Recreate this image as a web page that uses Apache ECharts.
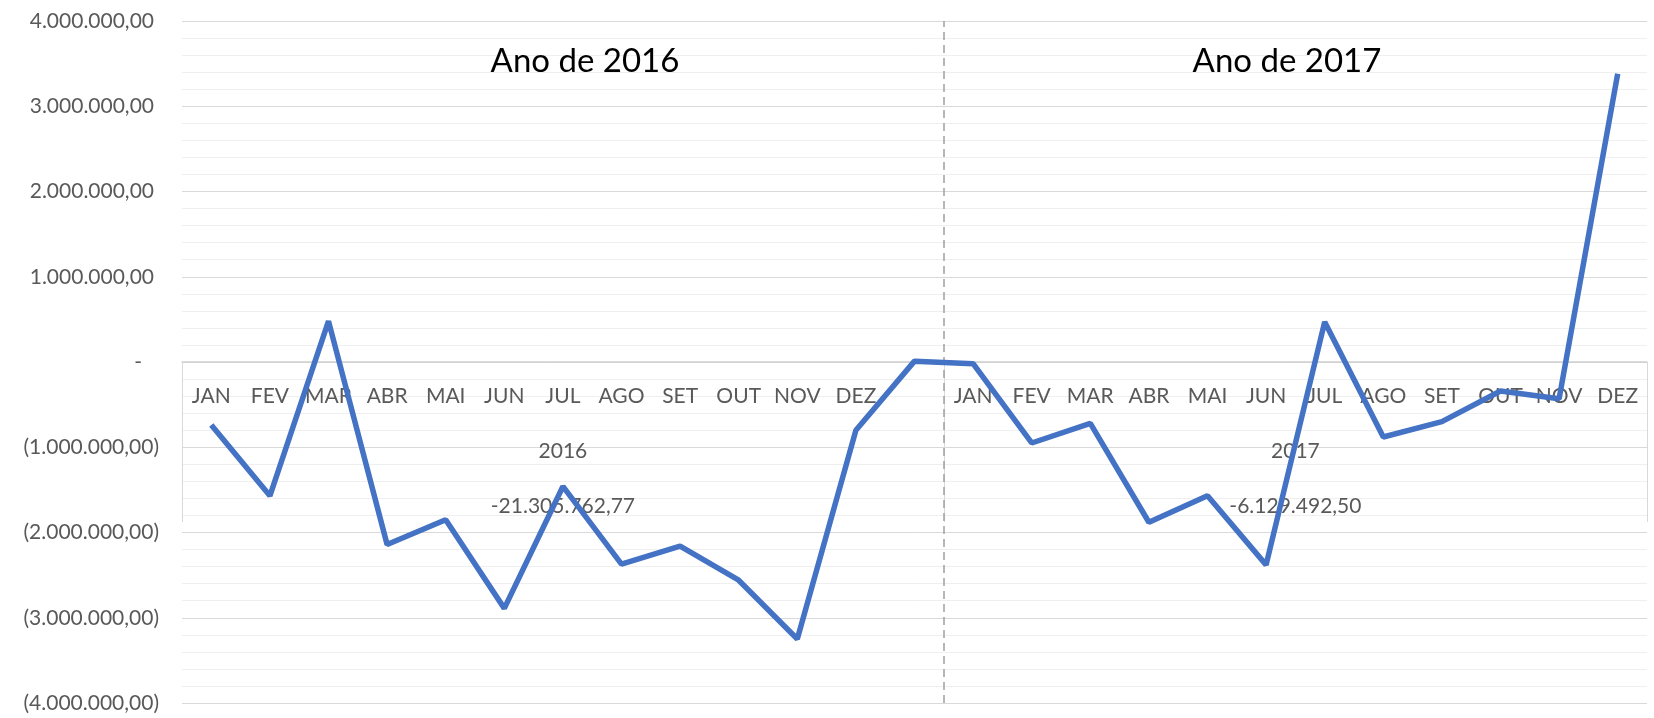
<!DOCTYPE html>
<html>
<head>
<meta charset="utf-8">
<script src="https://cdn.jsdelivr.net/npm/echarts@6/dist/echarts.min.js"></script>
<style>
  html, body { margin: 0; padding: 0; background: #fff; }
  #chart { width: 1654px; height: 718px; }
</style>
</head>
<body>
<div id="chart"></div>
<script>
// meses e valores (saldo mensal)
const months = ['JAN', 'FEV', 'MAR', 'ABR', 'MAI', 'JUN', 'JUL', 'AGO', 'SET', 'OUT', 'NOV', 'DEZ'];
const categories = months.concat([''], months);
const saldo2016 = [-740000, -1570000, 480000, -2140000, -1850000, -2890000, -1460000, -2370000, -2160000, -2560000, -3250000, -800000];
const separador = [10000];
const saldo2017 = [-20000, -950000, -720000, -1880000, -1570000, -2380000, 470000, -880000, -700000, -340000, -430000, 3380000];
const values = saldo2016.concat(separador, saldo2017);

const groupLabels = ['2016', '2017'];
const groupTotals = ['-21.305.762,77', '-6.129.492,50'];
const groupCenters = [6.5, 19];   // em unidades de categoria
const groupBounds = [0, 13, 25];
const titles = ['Ano de 2016', 'Ano de 2017'];

const yMin = -4000000, yMax = 4000000, yStep = 1000000;

const FONT = 'Lato, "Open Sans", sans-serif';
const W = 1654, H = 718;
const grid = { left: 182, right: 7, top: 21, bottom: 15 };
// eixo X fica na linha do zero: desloca o eixo de baixo para cima
const zeroOffset = -(H - grid.top - grid.bottom) * (0 - yMin) / (yMax - yMin);

function fmt(v) {
  const s = Math.round(Math.abs(v)).toString().replace(/\B(?=(\d{3})+(?!\d))/g, '.');
  return s + ',00';
}

const chart = echarts.init(document.getElementById('chart'));

chart.setOption({
  animation: false,
  backgroundColor: '#fff',
  grid: Object.assign({ outerBoundsMode: 'none' }, grid),
  title: [
    { text: titles[0], left: 580, top: 40, textAlign: 'center', textStyle: { fontSize: 33, fontFamily: FONT, fontWeight: 'normal', color: '#000' } },
    { text: titles[1], left: 1282, top: 40, textAlign: 'center', textStyle: { fontSize: 33, fontFamily: FONT, fontWeight: 'normal', color: '#000' } }
  ],
  xAxis: [{
    type: 'category',
    data: categories,
    boundaryGap: true,
    position: 'bottom',
    offset: zeroOffset,
    axisLine: { onZero: false, lineStyle: { color: '#d0d0d0', width: 1.5 } },
    axisTick: { show: false },
    axisLabel: { show: true, interval: 0, hideOverlap: false, margin: 24, color: '#595959', fontSize: 21, fontFamily: FONT },
    splitLine: { show: false }
  }, {
    type: 'value',
    min: 0,
    max: 25,
    position: 'bottom',
    offset: zeroOffset,
    axisLine: { show: false, onZero: false },
    axisTick: { show: true, inside: false, length: 160, customValues: groupBounds, lineStyle: { color: '#d9d9d9', width: 1 } },
    axisLabel: {
      show: true,
      hideOverlap: false,
      customValues: groupCenters,
      margin: 62,
      formatter: function (v) {
        const i = v < groupBounds[1] ? 0 : 1;
        return '{a|' + groupLabels[i] + '}\n{b|' + groupTotals[i] + '}';
      },
      rich: {
        a: { fontSize: 21, fontFamily: FONT, color: '#595959', lineHeight: 55 },
        b: { fontSize: 21, fontFamily: FONT, color: '#595959', lineHeight: 55 }
      }
    },
    splitLine: { show: false }
  }],
  yAxis: {
    type: 'value',
    min: yMin,
    max: yMax,
    interval: yStep,
    axisLine: { show: false },
    axisTick: { show: false },
    minorTick: { show: false, splitNumber: 5 },
    minorSplitLine: { show: true, lineStyle: { color: '#efefef', width: 1 } },
    splitLine: { show: true, lineStyle: { color: '#d9d9d9', width: 1 } },
    axisLabel: {
      margin: 23,
      color: '#595959',
      fontSize: 21,
      fontFamily: FONT,
      formatter: function (v) {
        if (v === 0) return '{z|-}';
        if (v > 0) return '{p|' + fmt(v) + '}';
        return '(' + fmt(v) + ')';
      },
      rich: {
        p: { fontSize: 21, fontFamily: FONT, color: '#595959', padding: [0, 5, 0, 0] },
        z: { fontSize: 21, fontFamily: FONT, color: '#595959', padding: [0, 17, 0, 0] }
      }
    }
  },
  series: [{
    type: 'line',
    xAxisIndex: 0,
    data: values,
    symbol: 'none',
    lineStyle: { color: '#4472C4', width: 5.5 },
    z: 5
  }, {
    // linha tracejada separando os anos
    type: 'line',
    xAxisIndex: 1,
    data: [],
    markLine: {
      silent: true,
      symbol: ['none', 'none'],
      label: { show: false },
      lineStyle: { color: '#a0a0a0', width: 1.5, type: [8, 5] },
      data: [{ xAxis: groupBounds[1] }]
    }
  }]
});
</script>
</body>
</html>
